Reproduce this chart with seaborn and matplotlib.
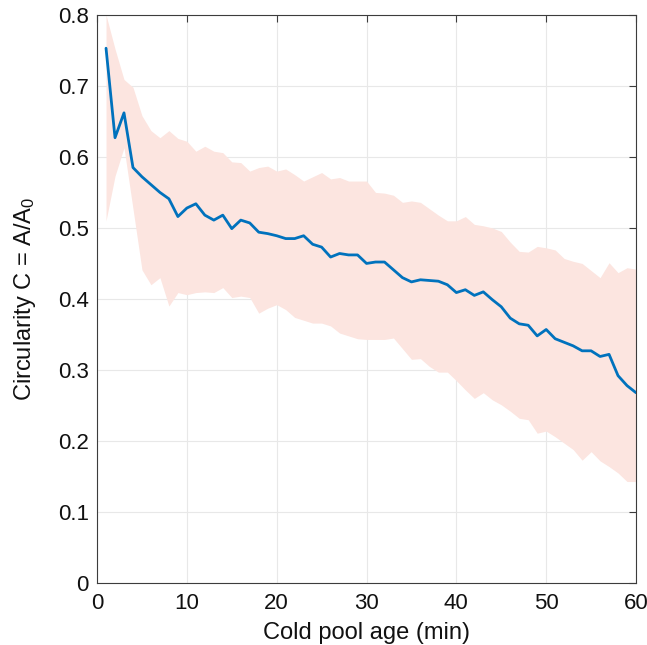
import numpy as np
import pandas as pd
import matplotlib
matplotlib.use("Agg")
import matplotlib.pyplot as plt
import seaborn as sns

# cold pool age (min)
age = list(range(1, 61))

# mean circularity
circ_mean = [0.753, 0.627, 0.662, 0.585, 0.572, 0.561, 0.550, 0.541, 0.516, 0.528,
             0.534, 0.518, 0.511, 0.518, 0.499, 0.511, 0.507, 0.494, 0.492, 0.489,
             0.485, 0.485, 0.489, 0.477, 0.473, 0.459, 0.464, 0.462, 0.462, 0.450,
             0.452, 0.452, 0.441, 0.430, 0.424, 0.427, 0.426, 0.425, 0.420, 0.409,
             0.413, 0.405, 0.410, 0.399, 0.389, 0.373, 0.365, 0.363, 0.348, 0.357,
             0.344, 0.339, 0.334, 0.327, 0.327, 0.319, 0.322, 0.292, 0.278, 0.268]

# spread envelope
circ_upper = [0.800, 0.752, 0.709, 0.698, 0.658, 0.637, 0.627, 0.637, 0.626, 0.622,
              0.608, 0.615, 0.608, 0.606, 0.593, 0.592, 0.580, 0.585, 0.587, 0.580,
              0.583, 0.575, 0.566, 0.572, 0.578, 0.569, 0.571, 0.566, 0.566, 0.566,
              0.550, 0.549, 0.546, 0.536, 0.538, 0.536, 0.527, 0.518, 0.510, 0.510,
              0.516, 0.505, 0.503, 0.500, 0.495, 0.480, 0.467, 0.466, 0.474, 0.472,
              0.469, 0.457, 0.453, 0.450, 0.440, 0.430, 0.451, 0.437, 0.444, 0.442]

circ_lower = [0.510, 0.573, 0.613, 0.527, 0.441, 0.420, 0.430, 0.390, 0.409, 0.406,
              0.409, 0.410, 0.409, 0.416, 0.402, 0.404, 0.402, 0.380, 0.387, 0.392,
              0.385, 0.374, 0.370, 0.366, 0.366, 0.362, 0.352, 0.348, 0.344, 0.343,
              0.343, 0.343, 0.345, 0.330, 0.315, 0.316, 0.305, 0.297, 0.297, 0.285,
              0.272, 0.260, 0.268, 0.258, 0.251, 0.242, 0.232, 0.230, 0.211, 0.214,
              0.206, 0.197, 0.188, 0.173, 0.185, 0.172, 0.164, 0.155, 0.143, 0.143]

df = pd.DataFrame({"age": age, "mean": circ_mean, "upper": circ_upper, "lower": circ_lower})

sns.set_style("white")
plt.rcParams['font.family'] = ['Liberation Sans', 'DejaVu Sans']
plt.rcParams['mathtext.fontset'] = 'custom'
plt.rcParams['mathtext.rm'] = 'Liberation Sans'
plt.rcParams['mathtext.it'] = 'Liberation Sans'

fig = plt.figure(figsize=(6.47, 6.45), dpi=100)
ax = fig.add_axes([0.150, 0.096, 0.833, 0.881])

ax.fill_between(df["age"], df["lower"], df["upper"], color="#FCE5E0", linewidth=0, zorder=1)
sns.lineplot(data=df, x="age", y="mean", color="#0072BD", linewidth=2.0, ax=ax, zorder=3)

ax.set_xlim(0, 60)
ax.set_ylim(0, 0.8)
ax.set_xticks(range(0, 61, 10))
ax.set_yticks(np.arange(0, 0.81, 0.1))
ax.set_yticklabels(["0", "0.1", "0.2", "0.3", "0.4", "0.5", "0.6", "0.7", "0.8"])

ax.grid(True, color="#E8E8E8", linewidth=0.8, zorder=0)
ax.set_axisbelow(True)
for s in ax.spines.values():
    s.set_color("#3C3C3C")
    s.set_linewidth(0.8)
ax.tick_params(direction="in", top=True, right=True, length=5, width=0.8,
               color="#3C3C3C", labelsize=16, labelcolor="#111111")
ax.tick_params(axis="x", pad=7)
ax.tick_params(axis="y", pad=6)

ax.set_xlabel("Cold pool age (min)", fontsize=17, color="#111111", labelpad=6)
ax.set_ylabel("Circularity C = A/A$_0$", fontsize=17, color="#111111", labelpad=14)

fig.savefig("out.png", dpi=100)
